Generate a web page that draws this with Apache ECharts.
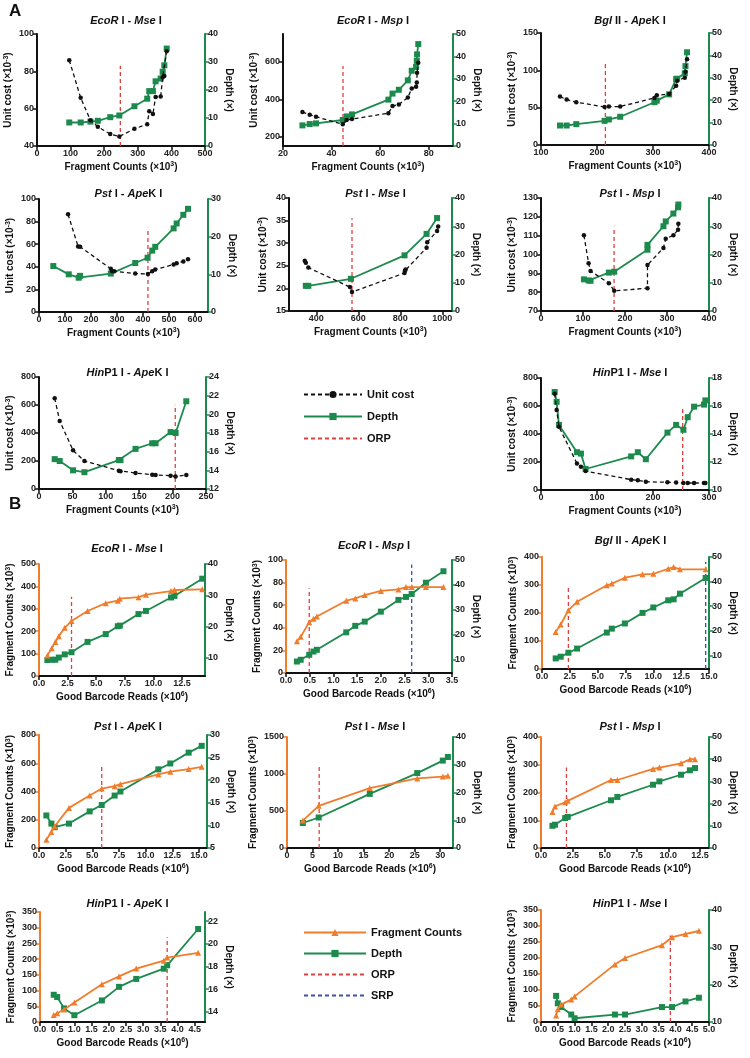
<!DOCTYPE html>
<html><head><meta charset="utf-8">
<script src="https://cdn.jsdelivr.net/npm/echarts@6/dist/echarts.min.js"></script>
<style>html,body{margin:0;padding:0;background:#fff}#c{width:750px;height:1058px}</style>
</head><body><div id="c"></div><script>
// ---------------- DATA ----------------
// Panel A: unit cost & depth vs fragment counts
const A1_fragments = [96,130,159,181,218,245,290,328,334,345,353,368,374,379,386];
const A1_unitCost = [86,65.8,53.8,50.3,46.4,45.1,49.2,51.7,58.6,57.2,66.2,66.5,76.8,77.5,90.8];
const A1_depth = [8.4,8.4,8.7,9.0,10.3,10.9,14.2,16.9,19.6,19.6,23.1,24.1,26.5,28.8,34.8];
const A1_orp = 248;

const A2_fragments = [28.0,31.0,33.6,44.6,46.2,48.4,63.4,65.1,67.7,71.4,73.0,74.8,75.1,75.2,75.7];
const A2_unitCost = [332,317,307,266,289,294,326,364,372,410,458,467,490,543,596];
const A2_depth = [9.2,9.8,10.1,11.6,13.2,14.1,20.7,23.4,25.1,29.3,33.6,35.3,38.0,40.9,45.5];
const A2_orp = 44.7;

const A3_fragments = [133.9,145.8,163.0,213.5,221.2,241.4,302.6,306.8,328.8,341.3,343.1,356.8,358.0,360.8];
const A3_unitCost = [64.8,60.8,57.3,51.0,51.5,51.5,63.0,66.6,68.4,79.4,86.1,90.1,98.1,115.0];
const A3_depth = [8.7,8.7,9.3,10.8,11.4,12.6,19.1,19.8,22.6,29.4,29.6,32.0,35.2,41.4];
const A3_orp = 215;

const A4_fragments = [111.8,150.3,158.1,276.2,281.3,289.1,370.0,418.9,435.6,447.1,517.8,529.4,555.1,573.1];
const A4_unitCost = [86.4,58.0,57.7,38.2,36.1,36.1,34.0,33.7,36.1,37.6,42.0,43.2,44.7,46.7];
const A4_depthFragments = [55,114.4,152.9,158.1,276.2,370,417.6,435.6,447.1,517.8,529.4,555.1,573.1];
const A4_depth = [12.2,10.0,9.1,9.6,10.2,13.0,14.4,16.3,17.3,22.2,23.5,25.8,27.4];
const A4_orp = 419;

const A5_fragments = [345,350,362,560,570,820,822,825,925,928,975,980];
const A5_unitCost = [26.1,25.7,24.6,20.3,19.2,23.4,23.9,24.2,29.0,30.2,32.7,33.7];
const A5_depthFragments = [350,362,565,820,925,975];
const A5_depth = [8.9,8.9,11.4,19.7,27.3,32.9];
const A5_orp = 570;

const A6_fragments = [102.2,113.3,118,161.6,174.3,253.5,253.5,291.5,297,315.2,326.3,327.1];
const A6_unitCost = [110.2,95.4,91.2,84.8,80.7,82.1,94.4,103.5,108.4,110.2,113.1,116.3];
const A6_depth = [11.2,10.8,10.7,13.6,13.9,21.7,23.4,30.0,31.7,34.5,36.7,37.7];
const A6_orp = 174;

const A7_fragments = [23.5,31,51,68,119.5,122,144.5,169.5,174.5,197,204.5,220.5];
const A7_unitCost = [648,486,276,200,131,126,114,102,100,95,90,100];
const A7_depth = [15.2,15.0,14.0,13.8,15.1,15.1,16.3,16.9,16.9,18.1,18.0,21.4];
const A7_orp = 204;

const A8_fragments = [24.4,27.9,32.1,64.2,71.3,79.6,161,172.9,187.2,225.8,241.3,254.3,262,273.3,291.1,293.5];
const A8_unitCost = [688,572,451,190,166,135,74,69,59,55,54,50,50,50,50,50];
const A8_depth = [17.0,16.3,14.65,12.7,12.6,11.5,12.4,12.7,12.2,14.1,14.65,14.3,15.2,15.95,16.1,16.4];
const A8_orp = 253;

// Panel B: fragment counts & depth vs good barcode reads
const B1_reads = [0.73,1.11,1.43,1.73,2.25,2.84,4.24,5.83,6.88,7.06,8.69,9.34,11.53,11.83,14.26];
const B1_fragments = [91,124,152,178,215,246,290,325,336,345,352,363,379,384,387];
const B1_depth = [9.3,9.4,9.4,10.1,11.1,11.8,15.1,17.6,20.1,20.3,24.0,25.0,29.3,29.8,35.3];
const B1_orp = 2.84;

const B2_reads = [0.23,0.31,0.49,0.58,0.65,1.27,1.46,1.66,2.00,2.37,2.53,2.65,2.95,3.32];
const B2_fragments = [28,32,45,48,50,64,66,69,72.6,74,76,76,76,76];
const B2_depth = [9.3,10.0,12.0,13.3,14.0,21.0,23.6,25.3,29.3,34.0,35.2,36.4,40.9,45.5];
const B2_orp = 0.49, B2_srp = 2.65;

const B3_reads = [1.23,1.68,2.37,3.15,5.82,6.27,7.44,9.03,10.0,11.34,11.82,12.39,14.7];
const B3_fragments = [132,159,210,240,299,305,326,338,340,358,364,356,356];
const B3_depth = [8.8,9.5,11.1,12.8,19.3,20.9,23.0,27.3,29.5,32.4,32.8,35.1,41.5];
const B3_orp = 2.37, B3_srp = 14.7;

const B4_reads = [0.69,1.16,1.47,2.81,4.75,5.88,7.09,7.63,11.19,12.31,14.03,15.25];
const B4_fragments = [59,114,154,284,372,421,438,452,521,540,559,575];
const B4_depth = [12.2,10.4,9.6,10.4,13.1,14.5,16.6,17.5,22.4,23.7,26.1,27.6];
const B4_orp = 5.88;

const B5_reads = [3.1,6.2,16.2,25.5,30.5,31.5];
const B5_fragments = [370,570,810,940,965,975];
const B5_depth = [9,11,19.5,27,31.5,32.8];
const B5_orp = 6.3;

const B6_reads = [0.9,1.1,1.9,2.1,5.5,6.0,8.8,9.3,11,11.7,12.1];
const B6_fragments = [130,150,165,170,245,245,285,290,305,320,320];
const B6_depth = [10,10.5,13.5,14,21.5,23,28.5,30,33,35,36];
const B6_orp = 2.0;

const B7_reads = [0.4,0.5,0.7,1.0,1.8,2.3,2.8,3.6,3.7,4.6];
const B7_fragments = [22,28,40,62,120,145,170,195,205,220];
const B7_depth = [15.5,15.3,14.3,13.7,15,16.2,16.9,17.8,18.1,21.3];
const B7_orp = 3.7;

const B8_reads = [0.45,0.5,0.6,0.9,1.0,2.2,2.5,3.6,3.9,4.3,4.7];
const B8_fragments = [20,40,55,70,80,180,200,240,265,275,285];
const B8_depth = [17,15,14,12,11,12,12,14,14,15.5,16.5];
const B8_orp = 3.85;

// tick labels
const A1_xTicks=[0,100,200,300,400,500], A1_yTicks=[40,60,80,100], A1_rTicks=[0,10,20,30,40];
const A2_xTicks=[20,40,60,80], A2_yTicks=[200,400,600], A2_rTicks=[0,10,20,30,40,50];
const A3_xTicks=[100,200,300,400], A3_yTicks=[0,50,100,150], A3_rTicks=[0,10,20,30,40,50];
const A4_xTicks=[0,100,200,300,400,500,600], A4_yTicks=[0,20,40,60,80,100], A4_rTicks=[0,10,20,30];
const A5_xTicks=[400,600,800,1000], A5_yTicks=[15,20,25,30,35,40], A5_rTicks=[0,10,20,30,40];
const A6_xTicks=[0,100,200,300,400], A6_yTicks=[70,80,90,100,110,120,130], A6_rTicks=[0,10,20,30,40];
const A7_xTicks=[0,50,100,150,200,250], A7_yTicks=[0,200,400,600,800], A7_rTicks=[12,14,16,18,20,22,24];
const A8_xTicks=[0,100,200,300], A8_yTicks=[0,200,400,600,800], A8_rTicks=[10,12,14,16,18];
const B1_xTicks=[0,2.5,5,7.5,10,12.5], B1_yTicks=[0,100,200,300,400,500], B1_rTicks=[10,20,30,40];
const B2_xTicks=[0,0.5,1,1.5,2,2.5,3,3.5], B2_yTicks=[0,20,40,60,80,100], B2_rTicks=[10,20,30,40,50];
const B3_xTicks=[0,2.5,5,7.5,10,12.5,15], B3_yTicks=[0,100,200,300,400], B3_rTicks=[10,20,30,40,50];
const B4_xTicks=[0,2.5,5,7.5,10,12.5,15], B4_yTicks=[0,200,400,600,800], B4_rTicks=[5,10,15,20,25,30];
const B5_xTicks=[0,5,10,15,20,25,30], B5_yTicks=[0,500,1000,1500], B5_rTicks=[0,10,20,30,40];
const B6_xTicks=[0,2.5,5,7.5,10,12.5], B6_yTicks=[0,100,200,300,400], B6_rTicks=[0,10,20,30,40,50];
const B7_xTicks=[0,0.5,1,1.5,2,2.5,3,3.5,4,4.5], B7_yTicks=[0,50,100,150,200,250,300,350], B7_rTicks=[14,16,18,20,22];
const B8_xTicks=[0,0.5,1,1.5,2,2.5,3,3.5,4,4.5,5], B8_yTicks=[0,50,100,150,200,250,300,350], B8_rTicks=[10,20,30,40];

// ---------------- STYLE / LAYOUT ----------------
const GREEN='#1c8a4c', ORANGE='#f07d2c', RED='#e0403f', BLUE='#3f4fae', BLACK='#111111';
const FONT='"Liberation Sans", Arial, Helvetica, sans-serif';
const zip=(a,b)=>a.map((v,i)=>[v,b[i]]);
const T=(a,b,c,d)=>'{i|'+a+'}{n|'+b+'}{i|'+c+'}{n|'+d+'}';
const f1=v=>v.toFixed(1);
const f0=v=>String(v);

const panels=[
 {g:[37,34,168,112],tY:10,title:T('EcoR',' I - ','Mse',' I'),x:[0,500],xt:A1_xTicks,y:[40,100],yt:A1_yTicks,r:[0,40],rt:A1_rTicks,
  kind:'A',fx:A1_fragments,fy:A1_unitCost,dx:A1_fragments,dy:A1_depth,orp:A1_orp,orpTop:83},
 {g:[283,34,170,112],tY:10,title:T('EcoR',' I - ','Msp',' I'),x:[20,90],xt:A2_xTicks,y:[150,750],yt:A2_yTicks,r:[0,50],rt:A2_rTicks,
  kind:'A',fx:A2_fragments,fy:A2_unitCost,dx:A2_fragments,dy:A2_depth,orp:A2_orp,orpTop:579},
 {g:[541,33,168,112],tY:10,title:T('Bgl',' II - ','Ape','K I'),x:[100,400],xt:A3_xTicks,y:[0,150],yt:A3_yTicks,r:[0,50],rt:A3_rTicks,
  kind:'A',fx:A3_fragments,fy:A3_unitCost,dx:A3_fragments,dy:A3_depth,orp:A3_orp,orpTop:110},
 {g:[39,199,169,113],tY:183,title:T('Pst',' I - ','Ape','K I'),x:[0,650],xt:A4_xTicks,y:[0,100],yt:A4_yTicks,r:[0,30],rt:A4_rTicks,
  kind:'A',fx:A4_fragments,fy:A4_unitCost,dx:A4_depthFragments,dy:A4_depth,orp:A4_orp,orpTop:74.6},
 {g:[289,198,163,113],tY:183,title:T('Pst',' I - ','Mse',' I'),x:[270,1046],xt:A5_xTicks,y:[15,40],yt:A5_yTicks,r:[0,40],rt:A5_rTicks,
  kind:'A',fx:A5_fragments,fy:A5_unitCost,dx:A5_depthFragments,dy:A5_depth,orp:A5_orp,orpTop:35.5},
 {g:[541,198,168,113],tY:183,title:T('Pst',' I - ','Msp',' I'),x:[0,400],xt:A6_xTicks,y:[70,130],yt:A6_yTicks,r:[0,40],rt:A6_rTicks,
  kind:'A',fx:A6_fragments,fy:A6_unitCost,dx:A6_fragments,dy:A6_depth,orp:A6_orp,orpTop:114.7},
 {g:[39,377,167,112],tY:362,title:T('Hin','P1 I - ','Ape','K I'),x:[0,250],xt:A7_xTicks,y:[0,800],yt:A7_yTicks,r:[12,24],rt:A7_rTicks,
  kind:'A',fx:A7_fragments,fy:A7_unitCost,dx:A7_fragments,dy:A7_depth,orp:A7_orp,orpTop:602},
 {g:[541,378,168,112],tY:362,title:T('Hin','P1 I - ','Mse',' I'),x:[0,300],xt:A8_xTicks,y:[0,800],yt:A8_yTicks,r:[10,18],rt:A8_rTicks,
  kind:'A',fx:A8_fragments,fy:A8_unitCost,dx:A8_fragments,dy:A8_depth,orp:A8_orp,orpTop:598},

 {g:[39,564,166,112],tY:538,title:T('EcoR',' I - ','Mse',' I'),x:[0,14.5],xt:B1_xTicks,xf:f1,y:[0,500],yt:B1_yTicks,r:[4.2,40],rt:B1_rTicks,
  kind:'B',fx:B1_reads,fy:B1_fragments,dx:B1_reads,dy:B1_depth,orp:B1_orp,orpTop:354},
 {g:[286,560,166,113],tY:535,title:T('EcoR',' I - ','Msp',' I'),x:[0,3.5],xt:B2_xTicks,xf:f1,y:[0,100],yt:B2_yTicks,r:[4.7,50],rt:B2_rTicks,
  kind:'B',fx:B2_reads,fy:B2_fragments,dx:B2_reads,dy:B2_depth,orp:B2_orp,orpTop:75,srp:B2_srp,srpTop:96},
 {g:[542,557,167,112],tY:530,title:T('Bgl',' II - ','Ape','K I'),x:[0,15],xt:B3_xTicks,xf:f1,y:[0,400],yt:B3_yTicks,r:[4.5,50],rt:B3_rTicks,
  kind:'B',fx:B3_reads,fy:B3_fragments,dx:B3_reads,dy:B3_depth,orp:B3_orp,orpTop:299,srp:B3_srp,srpTop:382},
 {g:[39,735,168,113],tY:716,title:T('Pst',' I - ','Ape','K I'),x:[0,15.75],xt:B4_xTicks,xf:f1,y:[0,800],yt:B4_yTicks,r:[5,30],rt:B4_rTicks,
  kind:'B',fx:B4_reads,fy:B4_fragments,dx:B4_reads,dy:B4_depth,orp:B4_orp,orpTop:592},
 {g:[287,737,166,111],tY:716,title:T('Pst',' I - ','Mse',' I'),x:[0,32.5],xt:B5_xTicks,xf:f0,y:[0,1500],yt:B5_yTicks,r:[0,40],rt:B5_rTicks,
  kind:'B',fx:B5_reads,fy:B5_fragments,dx:B5_reads,dy:B5_depth,orp:B5_orp,orpTop:1100},
 {g:[541,737,168,111],tY:716,title:T('Pst',' I - ','Msp',' I'),x:[0,13.2],xt:B6_xTicks,xf:f1,y:[0,400],yt:B6_yTicks,r:[0,50],rt:B6_rTicks,
  kind:'B',fx:B6_reads,fy:B6_fragments,dx:B6_reads,dy:B6_depth,orp:B6_orp,orpTop:290},
 {g:[40,912,165,110],tY:893,title:T('Hin','P1 I - ','Ape','K I'),x:[0,4.8],xt:B7_xTicks,xf:f1,y:[0,350],yt:B7_yTicks,r:[13.1,22.8],rt:B7_rTicks,
  kind:'B',fx:B7_reads,fy:B7_fragments,dx:B7_reads,dy:B7_depth,orp:B7_orp,orpTop:270},
 {g:[541,910,168,112],tY:893,title:T('Hin','P1 I - ','Mse',' I'),x:[0,5],xt:B8_xTicks,xf:f1,y:[0,350],yt:B8_yTicks,r:[10,40],rt:B8_rTicks,
  kind:'B',fx:B8_reads,fy:B8_fragments,dx:B8_reads,dy:B8_depth,orp:B8_orp,orpTop:270}
];

const labelStyle={color:'#222',fontFamily:FONT,fontWeight:'bold',fontSize:9,margin:3};
const nameStyle={color:'#111',fontFamily:FONT,fontWeight:'bold',fontSize:10,lineHeight:13,
  rich:{s:{fontFamily:FONT,fontWeight:'bold',fontSize:7,lineHeight:7,verticalAlign:'top',color:'#111'}}};
const option={animation:false,backgroundColor:'#fff',title:[],grid:[],xAxis:[],yAxis:[],series:[],legend:[],
 graphic:[
  {type:'text',left:9,top:3,style:{text:'A',font:'bold 17px '+FONT,fill:'#111'}},
  {type:'text',left:9,top:496,style:{text:'B',font:'bold 17px '+FONT,fill:'#111'}}
 ]};

function axisCommon(color,ticks,fmt){
  return {axisLine:{show:true,onZero:false,lineStyle:{color:color,width:2}},
    axisTick:{show:true,length:4,inside:false,customValues:ticks,lineStyle:{color:color,width:1.5}},
    axisLabel:Object.assign({customValues:ticks,formatter:fmt||f0},labelStyle),
    splitLine:{show:false},nameTextStyle:nameStyle};
}

panels.forEach((p,i)=>{
  const A=p.kind==='A';
  const cx=p.g[0]+p.g[2]/2;
  option.title.push({text:p.title,left:cx,top:p.tY,textAlign:'center',
    textStyle:{fontSize:11,fontFamily:FONT,fontWeight:'bold',color:'#111',
      rich:{i:{fontStyle:'italic',fontWeight:'bold',fontSize:11,fontFamily:FONT,color:'#111'},
            n:{fontWeight:'bold',fontSize:11,fontFamily:FONT,color:'#111'}}}});
  option.grid.push({left:p.g[0],top:p.g[1],width:p.g[2],height:p.g[3]});
  option.xAxis.push(Object.assign(axisCommon(BLACK,p.xt,p.xf),{type:'value',gridIndex:i,min:p.x[0],max:p.x[1],
    name:A?'Fragment Counts (×10{s|3})':'Good Barcode Reads (×10{s|6})',nameLocation:'middle',nameGap:15}));
  option.yAxis.push(Object.assign(axisCommon(A?BLACK:ORANGE,p.yt),{type:'value',gridIndex:i,position:'left',min:p.y[0],max:p.y[1],
    name:A?'Unit cost (×10{s|-3})':'Fragment Counts (×10{s|3})',nameLocation:'middle',nameGap:A?19:21}));
  const r=axisCommon(GREEN,p.rt);
  option.yAxis.push(Object.assign(r,{type:'value',gridIndex:i,position:'right',min:p.r[0],max:p.r[1],
    name:'Depth (×)',nameLocation:'middle',nameRotate:-90,nameGap:17}));
  const yl=2*i, yr=2*i+1;
  option.series.push({type:'line',name:'ORP',xAxisIndex:i,yAxisIndex:yl,symbol:'none',z:1,
    lineStyle:{color:RED,width:1.3,type:[4,3]},itemStyle:{color:RED},data:[[p.orp,p.y[0]],[p.orp,p.orpTop]]});
  if(p.srp!==undefined) option.series.push({type:'line',name:'SRP',xAxisIndex:i,yAxisIndex:yl,symbol:'none',z:1,
    lineStyle:{color:BLUE,width:1.3,type:[4,3]},itemStyle:{color:BLUE},data:[[p.srp,p.y[0]],[p.srp,p.srpTop]]});
  if(A){
    option.series.push({type:'line',name:'Unit cost',xAxisIndex:i,yAxisIndex:yl,symbol:'circle',symbolSize:4.5,z:3,
      lineStyle:{color:BLACK,width:1.3,type:[4,3]},itemStyle:{color:BLACK},data:zip(p.fx,p.fy)});
  } else {
    option.series.push({type:'line',name:'Fragment Counts',xAxisIndex:i,yAxisIndex:yl,symbol:'triangle',symbolSize:6,z:3,
      lineStyle:{color:ORANGE,width:1.8},itemStyle:{color:ORANGE},data:zip(p.fx,p.fy)});
  }
  option.series.push({type:'line',name:'Depth',xAxisIndex:i,yAxisIndex:yr,symbol:'rect',symbolSize:6,z:2,
    lineStyle:{color:GREEN,width:1.8},itemStyle:{color:GREEN},data:zip(p.dx,p.dy)});
});

const legText={fontFamily:FONT,fontWeight:'bold',fontSize:11,color:'#111'};
const hideMark={opacity:0};
option.legend.push({orient:'vertical',left:298,top:384,itemWidth:58,itemHeight:9,itemGap:11,textStyle:legText,
  data:['Unit cost','Depth',{name:'ORP',itemStyle:hideMark}],selectedMode:false});
option.legend.push({orient:'vertical',left:298,top:922,itemWidth:62,itemHeight:9,itemGap:10,textStyle:legText,
  data:['Fragment Counts','Depth',{name:'ORP',itemStyle:hideMark},{name:'SRP',itemStyle:hideMark}],selectedMode:false});

const chart=echarts.init(document.getElementById('c'),null,{renderer:'canvas'});
chart.setOption(option);
</script></body></html>
